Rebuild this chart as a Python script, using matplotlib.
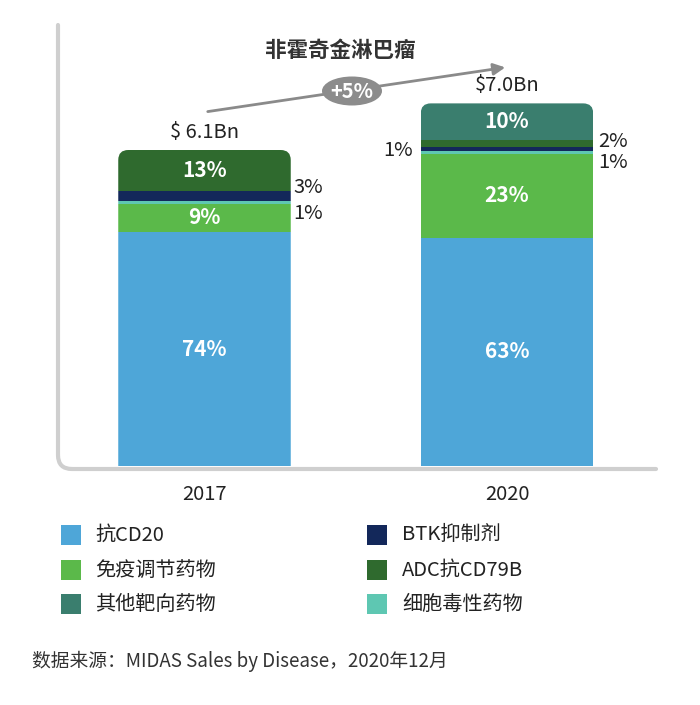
import matplotlib
matplotlib.use("Agg")
import matplotlib.pyplot as plt
from matplotlib.patches import FancyBboxPatch, Rectangle, Ellipse, PathPatch, FancyArrowPatch
from matplotlib.path import Path
from matplotlib.transforms import Affine2D

plt.rcParams['font.family'] = ['Noto Sans CJK SC', 'DejaVu Sans']

# ---------------- data ----------------
years = ["2017", "2020"]
totals = [6.1, 7.0]                 # $Bn
total_labels = ["$ 6.1Bn", "$7.0Bn"]
categories = ["抗CD20", "免疫调节药物", "细胞毒性药物", "BTK抑制剂", "ADC抗CD79B", "其他靶向药物"]
share_2017 = [74, 9, 1, 3, 13, 0]
share_2020 = [63, 23, 1, 1, 2, 10]
colors = ["#4EA6D8", "#5BB94A", "#5EC7B2", "#13285A", "#2F6A2E", "#3A7E6E"]
growth_label = "+5%"
title = "非霍奇金淋巴瘤"
source = "数据来源：MIDAS Sales by Disease，2020年12月"

W, H = 700, 705
fig = plt.figure(figsize=(W / 100, H / 100), dpi=100)
fig.patch.set_facecolor("white")

def fx(px):
    return px / W

def fy(py):
    return 1 - py / H

# pixel transform (origin top-left)
pix = Affine2D().scale(1 / W, -1 / H).translate(0, 1) + fig.transFigure

ax_left, ax_right, ax_top, ax_bottom = 58, 656, 25, 466
ax = fig.add_axes([fx(ax_left), fy(ax_bottom), fx(ax_right) - fx(ax_left), fy(ax_top) - fy(ax_bottom)])
px_per_x = 302.5
px_per_y = 316 / 6.1
x0 = (ax_left - 204.5) / px_per_x
x1 = (ax_right - 204.5) / px_per_x
ax.set_xlim(x0, x1)
ax.set_ylim(0, (ax_bottom - ax_top) / px_per_y)
ax.axis("off")

# custom rounded L-shaped spine
verts = [(58, 25), (58, 455), (58, 469), (72, 469), (656, 469)]
codes = [Path.MOVETO, Path.LINETO, Path.CURVE3, Path.CURVE3, Path.LINETO]
spine = PathPatch(Path(verts, codes), fill=False, edgecolor="#cfcfcf", lw=3.0,
                  capstyle="round", joinstyle="round", transform=pix)
fig.add_artist(spine)

xpos = [0, 1]
bar_w = 172.5 / px_per_x
shares = [share_2017, share_2020]
radius_px = 10

for i, (tot, sh) in enumerate(zip(totals, shares)):
    bottom = 0.0
    bars = []
    segs = []
    for cat, pct, col in zip(categories, sh, colors):
        h = tot * pct / 100
        b = ax.bar(xpos[i], h, width=bar_w, bottom=bottom, color=col, linewidth=0)
        bars.append(b[0])
        segs.append((bottom, h, pct))
        bottom += h
    # rounded top clip
    r_x = radius_px / px_per_x
    aspect = px_per_x / px_per_y
    clip = FancyBboxPatch((xpos[i] - bar_w / 2, -1), bar_w, tot + 1,
                          boxstyle=f"round,pad=0,rounding_size={r_x}",
                          mutation_aspect=aspect, transform=ax.transData,
                          facecolor="none", edgecolor="none")
    ax.add_patch(clip)
    for b in bars:
        b.set_clip_path(clip)
    # total label
    ax.annotate(total_labels[i], (xpos[i], tot), xytext=(0, 18 * 0.72),
                textcoords="offset points", ha="center", va="center",
                fontsize=14.5, color="#222222", fontweight="medium")
    # year tick label
    ax.annotate(years[i], (xpos[i], 0), xytext=(0, -28 * 0.72),
                textcoords="offset points", ha="center", va="center",
                fontsize=14.5, color="#222222", fontweight="medium",
                annotation_clip=False)
    # inside labels (large segments)
    for (b0, h, pct) in segs:
        if pct >= 5:
            ax.text(xpos[i], b0 + h / 2, f"{pct}%", ha="center", va="center",
                    fontsize=15, color="white", fontweight="bold")

# small-segment outside labels: (bar index, category index, side, dx px, dy px)
small_labels = [
    (0, 3, "right", 3, 8),
    (0, 2, "right", 3, -11),
    (1, 4, "right", 5, 2),
    (1, 2, "right", 5, -10),
    (1, 3, "left", -8, -2),
]
for bi, ci, side, dx, dy in small_labels:
    tot = totals[bi]
    sh = shares[bi]
    b0 = tot * sum(sh[:ci]) / 100
    h = tot * sh[ci] / 100
    xe = xpos[bi] + (bar_w / 2 if side == "right" else -bar_w / 2)
    ax.annotate(f"{sh[ci]}%", (xe, b0 + h / 2), xytext=(dx * 0.72, dy * 0.72),
                textcoords="offset points", ha="left" if side == "right" else "right",
                va="center", fontsize=14.5, color="#222222", fontweight="medium",
                annotation_clip=False)

# growth arrow + ellipse
arrow = FancyArrowPatch((205, 112), (508, 67), transform=pix,
                        arrowstyle="-|>,head_length=7,head_width=3.5",
                        color="#8a8a8a", lw=2.0, mutation_scale=1)
fig.add_artist(arrow)
ell = Ellipse((352, 91), 60, 29, transform=pix, facecolor="#8c8c8c", edgecolor="none")
fig.add_artist(ell)
fig.text(fx(352), fy(91), growth_label, ha="center", va="center", fontsize=14.5,
         color="white", fontweight="bold")

# title
fig.text(fx(340), fy(50), title, ha="center", va="center", fontsize=15.5,
         color="#333333", fontweight="bold")

# legend (manual)
leg_rows = [535, 570, 604]
leg_cols = [(61, 95), (367, 402)]
legend_order = [0, 3, 1, 4, 5, 2]
for k, ci in enumerate(legend_order):
    row = k // 2
    col = k % 2
    sx, tx = leg_cols[col]
    cy = leg_rows[row]
    fig.add_artist(Rectangle((sx, cy - 10), 20, 20, transform=pix,
                             facecolor=colors[ci], edgecolor="none"))
    fig.text(fx(tx), fy(cy), categories[ci], ha="left", va="center",
             fontsize=14.5, color="#222222", fontweight="medium")

# source
fig.text(fx(32), fy(661), source, ha="left", va="center", fontsize=13.5, color="#333333")

fig.savefig("out.png", dpi=100, facecolor="white")
